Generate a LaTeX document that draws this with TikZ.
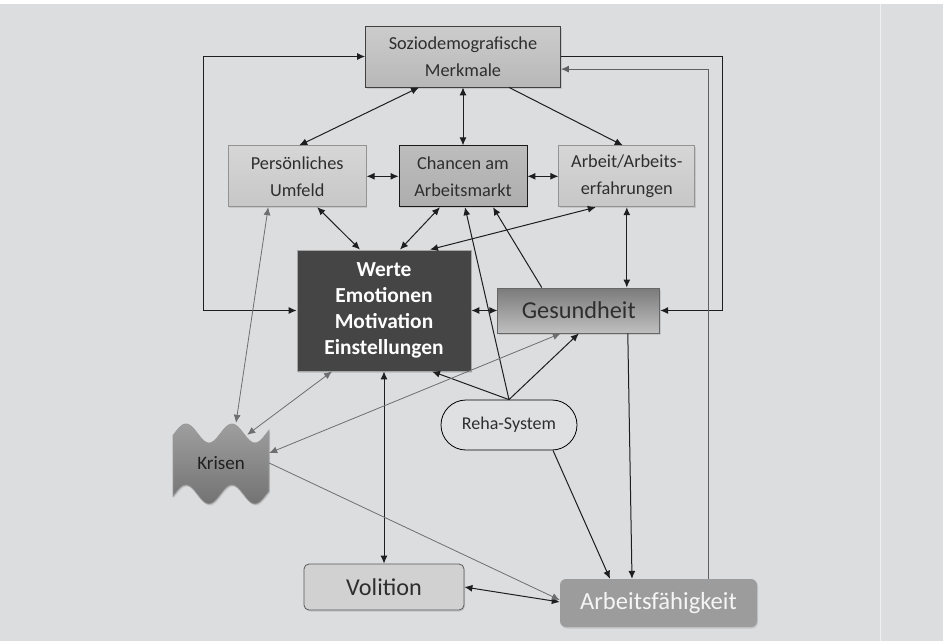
\documentclass[tikz,border=0pt]{standalone}
\usepackage{fontspec}
\setmainfont{Carlito}
\usetikzlibrary{arrows.meta,
                positioning,
                shadows}
\definecolor{bggray}{HTML}{DCDDDF}
\definecolor{txtgray}{HTML}{2E2E2E}
\definecolor{linegray}{HTML}{1E1E1E}
\definecolor{softgray}{HTML}{6E6E70}
\tikzset{
        >={Latex[length=8pt,width=7pt]},
        base/.style={align=center, inner sep=0pt, text=txtgray,
                     font=\fontsize{18.3}{27}\selectfont},
        shadowed/.style={drop shadow={shadow xshift=1pt, shadow yshift=-1.5pt,
                                      opacity=.25}},
        lightbox/.style={base, shadowed, draw=gray!85, line width=0.8pt,
                         top color=gray!32, bottom color=gray!44,
                         minimum width=137pt, minimum height=61pt},
        midbox/.style={base, shadowed, draw=black!75, line width=0.8pt,
                       top color=gray!40, bottom color=gray!56,
                       minimum height=61pt},
        darkbox/.style={base, shadowed, draw=gray!70, line width=0.8pt,
                        fill=black!73, text=white,
                        font=\bfseries\fontsize{21.4}{26}\selectfont,
                        minimum width=174pt, minimum height=121pt},
        healthbox/.style={base, shadowed, draw=black!60, line width=0.8pt,
                          top color=black!52, bottom color=gray!50,
                          font=\fontsize{24.3}{27}\selectfont,
                          minimum width=162pt, minimum height=45pt},
        pill/.style={base, draw=black, line width=0.8pt, fill=bggray!92!white,
                     rounded corners=25pt, minimum width=136pt,
                     minimum height=50pt, font=\fontsize{18}{22}\selectfont},
        volbox/.style={base, shadowed, draw=black!65, line width=0.8pt,
                       fill=gray!36, rounded corners=5pt,
                       font=\fontsize{24.2}{26}\selectfont,
                       minimum width=160pt, minimum height=46pt},
        abilitybox/.style={base, shadowed, fill=gray!78, rounded corners=6pt,
                           text=white!96!black,
                           font=\fontsize{24.6}{27}\selectfont,
                           minimum width=197pt, minimum height=48pt},
        crisis/.style={base, font=\fontsize{19}{22}\selectfont, text=black!88,
                       minimum width=96pt, minimum height=80pt},
        dbl/.style={<->, draw=linegray, line width=1pt},
        sgl/.style={->, draw=linegray, line width=1pt},
        dblsoft/.style={<->, draw=softgray, line width=0.8pt},
        sglsoft/.style={->, draw=softgray, line width=0.8pt},
 }
\begin{document}
\begin{tikzpicture}[x=1pt, y=-1pt]
    \useasboundingbox (0,0) rectangle (943,641);
    \fill[white] (0,0) rectangle (943,641);
    \fill[bggray] (0,4) rectangle (943,641);
    \draw[white!55!bggray, line width=0.8pt] (880,4) -- (880,641);

    % boxes
    \node[midbox, minimum width=195pt] (sozio) at (463,56.5) {Soziodemografische\\Merkmale};
    \node[midbox, draw=black!90, top color=gray!52, bottom color=gray!64,
          minimum width=128pt, below=58pt of sozio] (chancen) {Chancen am\\Arbeitsmarkt};
    \node[lightbox, minimum width=138pt, left=32pt of chancen] (pers) {Persönliches\\Umfeld};
    \node[lightbox, minimum width=136pt, right=31pt of chancen] (arbeit) {Arbeit/Arbeits-\\erfahrungen};
    \node[darkbox] (werte) at (384,310.5) {Werte\\Emotionen\\Motivation\\Einstellungen};
    \node[healthbox, right=26pt of werte] (gesund) {Gesundheit};
    \node[pill] (reha) at (509,425) {Reha-System};
    \node[volbox] (volition) at (384,587) {Volition};
    \node[abilitybox] (arbf) at (658.5,603) {Arbeitsfähigkeit};

    % Krisen (wave shape)
    \path[draw=black!40, line width=0.8pt, top color=black!38, bottom color=black!55,
          drop shadow={shadow xshift=1pt, shadow yshift=-1.5pt, opacity=.25}]
        plot[domain=173:269, samples=50] (\x,{433.5-9.5*cos(7.826*(\x-186))})
        -- plot[domain=269:173, samples=50] (\x,{494.5-9.5*cos(7.826*(\x-186))})
        -- cycle;
    \node[crisis] (krisen) at (221,463) {Krisen};

    % outer loops
    \draw[dbl] (werte.west) -- ++(-93,0) |- (sozio.west);
    \draw[sgl] (sozio.east) -- ++(161.5,0) |- (gesund.east);
    \draw[sgl, draw=black!62] ([xshift=49.5pt]arbf.north) |- ([yshift=-12.6pt]sozio.east);

    % upper part
    \draw[dbl] ([xshift=-44pt]sozio.south) -- ([xshift=2pt]pers.north);
    \draw[dbl] (sozio.south) -- (chancen.north);
    \draw[sgl] ([xshift=46pt]sozio.south) -- ([xshift=-4pt]arbeit.north);
    \draw[dbl] (pers.east) -- (chancen.west);
    \draw[dbl] (chancen.east) -- (arbeit.west);

    % middle part
    \draw[dbl] ([xshift=20pt]pers.south) -- ([xshift=-24pt]werte.north);
    \draw[dbl] ([xshift=-23pt]chancen.south) -- ([xshift=16pt]werte.north);
    \draw[dbl] ([xshift=46pt]werte.north) -- ([xshift=-31pt]arbeit.south);
    \draw[dbl] (arbeit.south) -- (arbeit.south |- gesund.north);
    \draw[dbl] (werte.east) -- (gesund.west);
    \draw[sgl] ([xshift=-37pt]gesund.north) -- ([xshift=30pt]chancen.south);

    % Reha-System
    \draw[sgl] (reha.north) -- ([xshift=2pt]chancen.south);
    \draw[sgl] (reha.north) -- ([xshift=48pt]werte.south);
    \draw[sgl] (reha.north) -- (gesund.south);
    \draw[sgl] ([xshift=44pt]reha.south) -- ([xshift=-48.5pt]arbf.north);

    % lower part
    \draw[sgl] ([xshift=49pt]gesund.south) -- ([xshift=-26.5pt]arbf.north);
    \draw[dbl] (werte.south) -- (volition.north);
    \draw[dbl] (volition.east) -- ([yshift=1pt]arbf.west);

    % Krisen
    \draw[dblsoft] ([xshift=-29pt]pers.south) -- ([xshift=15pt]krisen.north);
    \draw[dblsoft] ([xshift=-52pt]werte.south) -- ([xshift=-22pt,yshift=-12pt]krisen.north east);
    \draw[dblsoft] ([xshift=-18pt]gesund.south) -- ([yshift=10pt]krisen.east);
    \draw[sglsoft] (krisen.east) -- ([yshift=3pt]arbf.west);
\end{tikzpicture}
\end{document}
